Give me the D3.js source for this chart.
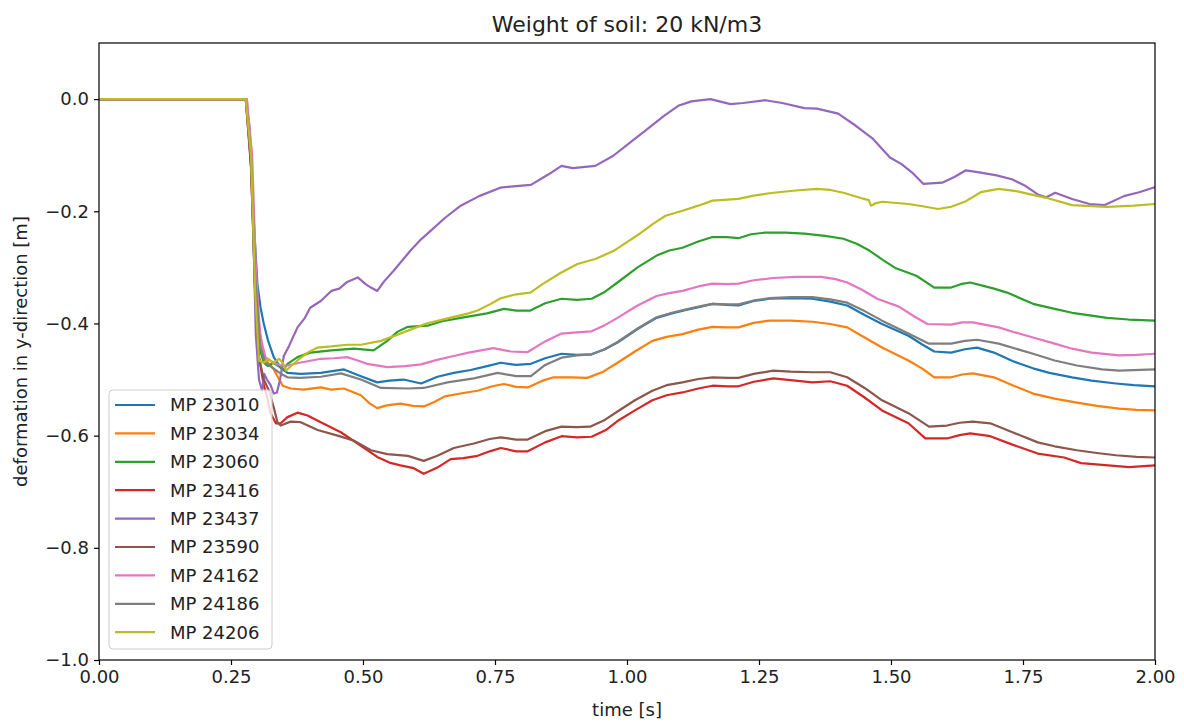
<!DOCTYPE html>
<html>
<head>
<meta charset="utf-8">
<script src="https://cdn.jsdelivr.net/npm/d3@7"></script>
<style>
  html, body { margin: 0; padding: 0; background: #fff; }
  svg { display: block; font-family: "DejaVu Sans", sans-serif; }
</style>
</head>
<body>
<svg id="chart" width="1184" height="724"></svg>
<script>
// Vertical deformation of monitoring points over time, [time s, deformation m]
const mp23010 = [[0,0],[0.278,0],[0.285,-0.05],[0.292,-0.2],[0.300,-0.33],[0.306,-0.372],[0.312,-0.40],[0.320,-0.43],[0.331,-0.46],[0.344,-0.479],[0.357,-0.488],[0.382,-0.490],[0.420,-0.488],[0.464,-0.482],[0.496,-0.494],[0.527,-0.505],[0.550,-0.502],[0.577,-0.500],[0.610,-0.507],[0.641,-0.495],[0.672,-0.488],[0.704,-0.483],[0.735,-0.476],[0.761,-0.470],[0.790,-0.474],[0.818,-0.472],[0.845,-0.462],[0.876,-0.454],[0.905,-0.456],[0.933,-0.455],[0.958,-0.446],[0.982,-0.434],[1.020,-0.410],[1.056,-0.390],[1.085,-0.382],[1.112,-0.376],[1.140,-0.370],[1.162,-0.365],[1.190,-0.367],[1.211,-0.368],[1.240,-0.360],[1.270,-0.356],[1.310,-0.355],[1.351,-0.356],[1.385,-0.361],[1.417,-0.368],[1.450,-0.385],[1.483,-0.401],[1.533,-0.422],[1.560,-0.438],[1.582,-0.450],[1.614,-0.452],[1.640,-0.446],[1.663,-0.443],[1.695,-0.452],[1.730,-0.467],[1.769,-0.480],[1.800,-0.488],[1.843,-0.496],[1.880,-0.502],[1.926,-0.507],[1.960,-0.510],[2.0,-0.512]];
const mp23034 = [[0,0],[0.278,0],[0.285,-0.06],[0.292,-0.22],[0.300,-0.38],[0.310,-0.45],[0.320,-0.47],[0.330,-0.48],[0.339,-0.496],[0.348,-0.511],[0.363,-0.516],[0.388,-0.518],[0.420,-0.514],[0.440,-0.518],[0.464,-0.516],[0.496,-0.528],[0.512,-0.542],[0.527,-0.551],[0.545,-0.546],[0.571,-0.543],[0.595,-0.547],[0.615,-0.548],[0.635,-0.540],[0.655,-0.530],[0.690,-0.524],[0.717,-0.520],[0.745,-0.512],[0.767,-0.508],[0.790,-0.513],[0.812,-0.514],[0.840,-0.502],[0.861,-0.496],[0.895,-0.496],[0.925,-0.497],[0.955,-0.486],[0.982,-0.470],[1.015,-0.450],[1.048,-0.431],[1.075,-0.424],[1.105,-0.419],[1.135,-0.411],[1.162,-0.406],[1.190,-0.407],[1.211,-0.407],[1.240,-0.399],[1.270,-0.395],[1.310,-0.395],[1.351,-0.397],[1.385,-0.401],[1.417,-0.407],[1.450,-0.425],[1.483,-0.443],[1.533,-0.466],[1.560,-0.481],[1.582,-0.496],[1.614,-0.496],[1.635,-0.491],[1.655,-0.489],[1.695,-0.496],[1.730,-0.510],[1.769,-0.525],[1.810,-0.534],[1.852,-0.541],[1.890,-0.547],[1.932,-0.552],[1.965,-0.554],[2.0,-0.555]];
const mp23060 = [[0,0],[0.278,0],[0.288,-0.1],[0.295,-0.3],[0.303,-0.44],[0.312,-0.47],[0.320,-0.476],[0.330,-0.470],[0.340,-0.476],[0.350,-0.482],[0.357,-0.472],[0.376,-0.460],[0.400,-0.452],[0.440,-0.448],[0.483,-0.445],[0.520,-0.448],[0.546,-0.431],[0.565,-0.415],[0.585,-0.406],[0.622,-0.404],[0.650,-0.396],[0.685,-0.390],[0.735,-0.382],[0.767,-0.374],[0.790,-0.377],[0.817,-0.377],[0.845,-0.364],[0.876,-0.356],[0.905,-0.358],[0.933,-0.356],[0.956,-0.345],[0.982,-0.327],[1.020,-0.300],[1.056,-0.279],[1.080,-0.270],[1.105,-0.265],[1.135,-0.254],[1.162,-0.246],[1.190,-0.246],[1.211,-0.248],[1.235,-0.241],[1.262,-0.238],[1.300,-0.238],[1.336,-0.240],[1.375,-0.244],[1.410,-0.249],[1.435,-0.258],[1.459,-0.270],[1.485,-0.287],[1.508,-0.301],[1.548,-0.315],[1.582,-0.336],[1.614,-0.336],[1.632,-0.330],[1.650,-0.327],[1.675,-0.333],[1.695,-0.338],[1.720,-0.345],[1.769,-0.365],[1.810,-0.374],[1.843,-0.381],[1.880,-0.386],[1.909,-0.390],[1.950,-0.393],[2.0,-0.395]];
const mp23416 = [[0,0],[0.278,0],[0.288,-0.12],[0.296,-0.35],[0.303,-0.46],[0.312,-0.51],[0.318,-0.53],[0.325,-0.56],[0.335,-0.578],[0.344,-0.578],[0.357,-0.567],[0.376,-0.559],[0.395,-0.564],[0.420,-0.576],[0.458,-0.594],[0.496,-0.618],[0.527,-0.638],[0.550,-0.648],[0.571,-0.653],[0.596,-0.658],[0.615,-0.668],[0.641,-0.657],[0.666,-0.642],[0.690,-0.640],[0.717,-0.636],[0.740,-0.628],[0.761,-0.622],[0.790,-0.628],[0.812,-0.628],[0.845,-0.612],[0.876,-0.601],[0.905,-0.603],[0.933,-0.602],[0.960,-0.590],[0.982,-0.574],[1.015,-0.555],[1.048,-0.537],[1.075,-0.528],[1.105,-0.523],[1.135,-0.516],[1.162,-0.511],[1.190,-0.512],[1.211,-0.512],[1.240,-0.504],[1.277,-0.498],[1.310,-0.501],[1.351,-0.505],[1.385,-0.503],[1.417,-0.511],[1.450,-0.532],[1.483,-0.555],[1.533,-0.578],[1.565,-0.605],[1.606,-0.605],[1.630,-0.599],[1.650,-0.596],[1.688,-0.601],[1.730,-0.616],[1.778,-0.632],[1.828,-0.639],[1.860,-0.649],[1.900,-0.652],[1.951,-0.656],[2.0,-0.653]];
const mp23437 = [[0,0],[0.280,0],[0.290,-0.15],[0.297,-0.42],[0.303,-0.50],[0.309,-0.52],[0.313,-0.49],[0.318,-0.50],[0.325,-0.51],[0.331,-0.525],[0.337,-0.523],[0.343,-0.500],[0.350,-0.458],[0.360,-0.440],[0.376,-0.407],[0.390,-0.390],[0.400,-0.372],[0.420,-0.360],[0.440,-0.342],[0.455,-0.338],[0.470,-0.326],[0.490,-0.318],[0.505,-0.330],[0.515,-0.336],[0.527,-0.342],[0.540,-0.325],[0.558,-0.306],[0.590,-0.270],[0.610,-0.250],[0.628,-0.235],[0.655,-0.212],[0.685,-0.190],[0.720,-0.173],[0.760,-0.158],[0.790,-0.155],[0.818,-0.153],[0.850,-0.135],[0.876,-0.119],[0.897,-0.123],[0.940,-0.119],[0.974,-0.101],[1.005,-0.078],[1.039,-0.053],[1.070,-0.030],[1.097,-0.012],[1.122,-0.004],[1.158,0.000],[1.196,-0.009],[1.220,-0.007],[1.262,-0.002],[1.294,-0.007],[1.336,-0.016],[1.360,-0.017],[1.400,-0.026],[1.434,-0.048],[1.466,-0.071],[1.498,-0.104],[1.520,-0.116],[1.540,-0.131],[1.561,-0.151],[1.597,-0.149],[1.620,-0.139],[1.642,-0.127],[1.670,-0.131],[1.700,-0.136],[1.729,-0.143],[1.755,-0.155],[1.778,-0.170],[1.794,-0.175],[1.811,-0.167],[1.825,-0.172],[1.843,-0.178],[1.876,-0.187],[1.905,-0.189],[1.941,-0.173],[1.970,-0.166],[2.0,-0.157]];
const mp23590 = [[0,0],[0.278,0],[0.288,-0.12],[0.296,-0.35],[0.303,-0.46],[0.312,-0.50],[0.322,-0.52],[0.331,-0.55],[0.338,-0.576],[0.344,-0.582],[0.363,-0.575],[0.382,-0.576],[0.414,-0.590],[0.452,-0.600],[0.483,-0.609],[0.515,-0.626],[0.546,-0.633],[0.585,-0.636],[0.615,-0.645],[0.641,-0.636],[0.672,-0.622],[0.710,-0.614],[0.740,-0.606],[0.761,-0.603],[0.790,-0.607],[0.812,-0.607],[0.845,-0.592],[0.876,-0.584],[0.905,-0.585],[0.930,-0.584],[0.958,-0.572],[0.982,-0.557],[1.015,-0.537],[1.048,-0.520],[1.075,-0.510],[1.105,-0.505],[1.135,-0.499],[1.162,-0.496],[1.190,-0.497],[1.211,-0.497],[1.240,-0.490],[1.277,-0.484],[1.310,-0.486],[1.351,-0.487],[1.385,-0.487],[1.417,-0.496],[1.450,-0.515],[1.483,-0.537],[1.533,-0.560],[1.572,-0.584],[1.606,-0.582],[1.630,-0.577],[1.655,-0.575],[1.688,-0.578],[1.730,-0.594],[1.778,-0.612],[1.810,-0.619],[1.852,-0.626],[1.890,-0.631],[1.926,-0.635],[1.965,-0.638],[2.0,-0.639]];
const mp24162 = [[0,0],[0.280,0],[0.290,-0.10],[0.297,-0.30],[0.305,-0.42],[0.315,-0.46],[0.330,-0.47],[0.345,-0.475],[0.357,-0.475],[0.380,-0.470],[0.420,-0.463],[0.445,-0.462],[0.470,-0.460],[0.490,-0.466],[0.508,-0.472],[0.546,-0.478],[0.580,-0.476],[0.610,-0.473],[0.640,-0.465],[0.672,-0.458],[0.700,-0.452],[0.747,-0.444],[0.780,-0.450],[0.812,-0.451],[0.845,-0.432],[0.876,-0.418],[0.905,-0.416],[0.933,-0.414],[0.958,-0.403],[0.982,-0.390],[1.020,-0.368],[1.056,-0.351],[1.080,-0.346],[1.105,-0.342],[1.135,-0.334],[1.162,-0.329],[1.190,-0.330],[1.211,-0.329],[1.240,-0.323],[1.277,-0.319],[1.320,-0.317],[1.368,-0.317],[1.395,-0.321],[1.417,-0.327],[1.445,-0.340],[1.474,-0.356],[1.515,-0.370],[1.545,-0.388],[1.569,-0.401],[1.614,-0.402],[1.635,-0.398],[1.655,-0.398],[1.704,-0.407],[1.735,-0.416],[1.769,-0.425],[1.810,-0.436],[1.843,-0.445],[1.880,-0.452],[1.932,-0.457],[1.965,-0.456],[2.0,-0.454]];
const mp24186 = [[0,0],[0.278,0],[0.288,-0.1],[0.296,-0.32],[0.305,-0.44],[0.315,-0.47],[0.330,-0.48],[0.345,-0.490],[0.357,-0.496],[0.380,-0.497],[0.420,-0.495],[0.458,-0.489],[0.496,-0.500],[0.534,-0.515],[0.585,-0.516],[0.615,-0.515],[0.660,-0.505],[0.710,-0.498],[0.755,-0.488],[0.790,-0.494],[0.818,-0.494],[0.845,-0.474],[0.876,-0.461],[0.905,-0.457],[0.933,-0.455],[0.958,-0.446],[0.982,-0.433],[1.020,-0.409],[1.056,-0.389],[1.085,-0.381],[1.112,-0.375],[1.140,-0.369],[1.162,-0.365],[1.190,-0.366],[1.211,-0.366],[1.240,-0.359],[1.270,-0.355],[1.310,-0.353],[1.351,-0.353],[1.385,-0.357],[1.417,-0.363],[1.450,-0.378],[1.483,-0.395],[1.533,-0.418],[1.572,-0.436],[1.614,-0.436],[1.640,-0.431],[1.663,-0.429],[1.704,-0.436],[1.769,-0.454],[1.810,-0.466],[1.852,-0.475],[1.900,-0.482],[1.932,-0.484],[2.0,-0.482]];
const mp24206 = [[0,0],[0.278,0],[0.288,-0.10],[0.296,-0.35],[0.303,-0.466],[0.312,-0.47],[0.320,-0.463],[0.330,-0.470],[0.341,-0.463],[0.348,-0.470],[0.354,-0.484],[0.365,-0.475],[0.376,-0.466],[0.395,-0.452],[0.414,-0.443],[0.440,-0.441],[0.470,-0.438],[0.496,-0.438],[0.534,-0.431],[0.560,-0.422],[0.590,-0.411],[0.620,-0.400],[0.660,-0.391],[0.700,-0.382],[0.717,-0.377],[0.740,-0.366],[0.761,-0.355],[0.790,-0.348],[0.817,-0.345],[0.840,-0.330],[0.874,-0.310],[0.906,-0.294],[0.940,-0.285],[0.974,-0.271],[0.995,-0.258],[1.024,-0.240],[1.050,-0.222],[1.073,-0.208],[1.105,-0.199],[1.135,-0.190],[1.162,-0.181],[1.211,-0.178],[1.240,-0.172],[1.277,-0.167],[1.320,-0.163],[1.360,-0.160],[1.385,-0.162],[1.410,-0.167],[1.449,-0.178],[1.458,-0.180],[1.462,-0.190],[1.470,-0.186],[1.483,-0.183],[1.533,-0.187],[1.560,-0.191],[1.589,-0.196],[1.614,-0.192],[1.642,-0.182],[1.670,-0.166],[1.704,-0.160],[1.737,-0.164],[1.794,-0.176],[1.843,-0.189],[1.909,-0.192],[1.960,-0.190],[2.0,-0.187]];

const seriesNames = ["MP 23010", "MP 23034", "MP 23060", "MP 23416", "MP 23437", "MP 23590", "MP 24162", "MP 24186", "MP 24206"];
const seriesValues = [mp23010, mp23034, mp23060, mp23416, mp23437, mp23590, mp24162, mp24186, mp24206];
const seriesColors = ["#1f77b4", "#ff7f0e", "#2ca02c", "#d62728", "#9467bd", "#8c564b", "#e377c2", "#7f7f7f", "#bcbd22"];

const xTicks = [0, 0.25, 0.5, 0.75, 1.0, 1.25, 1.5, 1.75, 2.0];
const yTicks = [0, -0.2, -0.4, -0.6, -0.8, -1.0];

const titleText = "Weight of soil: 20 kN/m3";
const xLabelText = "time [s]";
const yLabelText = "deformation in y-direction [m]";

// Layout
const plot = { left: 99, right: 1155, top: 43, bottom: 660 };
const svg = d3.select("#chart");

const x = d3.scaleLinear().domain([0, 2]).range([plot.left, plot.right]);
const y = d3.scaleLinear().domain([-1, 0.1]).range([plot.bottom, plot.top]);

// Clip for lines
svg.append("defs").append("clipPath").attr("id", "plot-clip")
  .append("rect")
  .attr("x", plot.left).attr("y", plot.top)
  .attr("width", plot.right - plot.left).attr("height", plot.bottom - plot.top);

const line = d3.line().x(d => x(d[0])).y(d => y(d[1]));

const linesG = svg.append("g").attr("clip-path", "url(#plot-clip)");
seriesValues.forEach((vals, i) => {
  linesG.append("path")
    .datum(vals)
    .attr("d", line)
    .attr("fill", "none")
    .attr("stroke", seriesColors[i])
    .attr("stroke-width", 2.2)
    .attr("stroke-linejoin", "round")
    .attr("stroke-linecap", "square");
});

// Axes
const fmtX = d3.format(".2f");
const fmtY = v => d3.format(".1f")(v).replace("-", "\u2212");

const xAxis = d3.axisBottom(x).tickValues(xTicks).tickFormat(fmtX).tickSize(5).tickPadding(5);
const yAxis = d3.axisLeft(y).tickValues(yTicks).tickFormat(fmtY).tickSize(5).tickPadding(5);

const gx = svg.append("g").attr("transform", `translate(0,${plot.bottom})`).call(xAxis);
const gy = svg.append("g").attr("transform", `translate(${plot.left},0)`).call(yAxis);
[gx, gy].forEach(g => {
  g.select(".domain").remove();
  g.selectAll(".tick line").attr("stroke", "#000").attr("stroke-width", 1.2);
  g.selectAll(".tick text").attr("fill", "#222").style("font-size", "18px")
    .style("font-family", "'DejaVu Sans', sans-serif");
});

// Frame
svg.append("rect")
  .attr("x", plot.left).attr("y", plot.top)
  .attr("width", plot.right - plot.left).attr("height", plot.bottom - plot.top)
  .attr("fill", "none").attr("stroke", "#000").attr("stroke-width", 1.2);

// Titles
svg.append("text")
  .attr("x", (plot.left + plot.right) / 2).attr("y", 32)
  .attr("text-anchor", "middle").style("font-size", "22px").attr("fill", "#222")
  .text(titleText);

svg.append("text")
  .attr("x", (plot.left + plot.right) / 2).attr("y", 716)
  .attr("text-anchor", "middle").style("font-size", "18px").attr("fill", "#222")
  .text(xLabelText);

svg.append("text")
  .attr("transform", `translate(27,${(plot.top + plot.bottom) / 2}) rotate(-90)`)
  .attr("text-anchor", "middle").style("font-size", "18px").attr("fill", "#222")
  .text(yLabelText);

// Legend
const legend = { x: 109, y: 390, w: 163, h: 259, row: 28.4 };
const lg = svg.append("g");
lg.append("rect")
  .attr("x", legend.x).attr("y", legend.y)
  .attr("width", legend.w).attr("height", legend.h)
  .attr("rx", 4).attr("ry", 4)
  .attr("fill", "#fff").attr("fill-opacity", 0.8)
  .attr("stroke", "#ccc").attr("stroke-width", 1);

seriesNames.forEach((name, i) => {
  const cy = legend.y + 15 + i * legend.row;
  lg.append("line")
    .attr("x1", legend.x + 6).attr("x2", legend.x + 46)
    .attr("y1", cy).attr("y2", cy)
    .attr("stroke", seriesColors[i]).attr("stroke-width", 2.2);
  lg.append("text")
    .attr("x", legend.x + 61).attr("y", cy)
    .attr("dy", "0.35em")
    .style("font-size", "18px").attr("fill", "#222")
    .text(name);
});
</script>
</body>
</html>
